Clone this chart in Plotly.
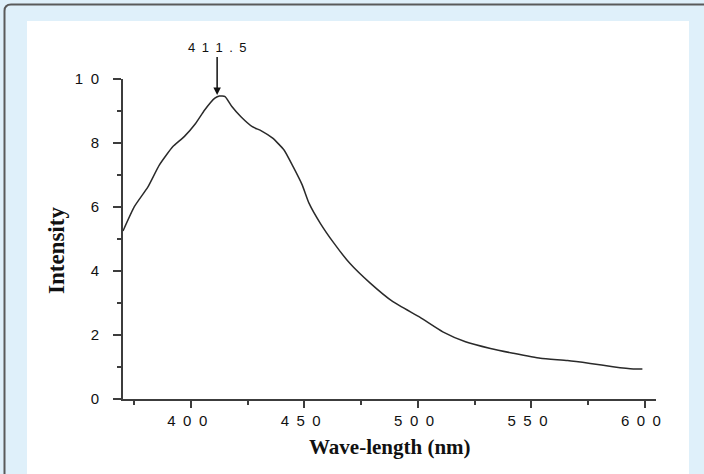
import plotly.graph_objects as go

# Data
wavelength = [370, 375, 381, 386, 392, 397, 402, 406, 410.5, 412.5, 415, 418, 422, 427, 431,
              436, 441, 445, 449, 452, 457, 463, 470, 479, 489, 501, 511, 521, 532, 542,
              554, 566, 576, 586, 595, 599]
intensity = [5.25, 6.01, 6.63, 7.31, 7.89, 8.20, 8.61, 9.03, 9.40, 9.47, 9.45, 9.14, 8.82, 8.51, 8.38,
             8.15, 7.78, 7.26, 6.69, 6.12, 5.49, 4.87, 4.24, 3.62, 3.04, 2.55, 2.10, 1.79, 1.58, 1.43,
             1.27, 1.20, 1.11, 1.01, 0.94, 0.94]

x_tickvals = [400, 450, 500, 550, 600]
x_ticktext = ["4\u20020\u20020\u2002", "4\u20025\u20020\u2002", "5\u20020\u20020\u2002",
              "5\u20025\u20020\u2002", "6\u20020\u20020\u2002"]
y_tickvals = [0, 2, 4, 6, 8, 10]
y_ticktext = ["0", "2", "4", "6", "8", "1\u20020"]

peak_x = 411.5
peak_y = 9.47
peak_label = "4\u20021\u20021\u2002.\u20025"

W, H = 704, 474
L, R, T, B = 123, 48, 79, 75
pw, ph = W - L - R, H - T - B

def px(x):
    return (x - L) / pw

def py(y):
    return (H - B - y) / ph

fig = go.Figure()
fig.add_trace(go.Scatter(x=wavelength, y=intensity, mode="lines",
                         line=dict(color="#2a2a2a", width=1.5, shape="spline", smoothing=0.5),
                         showlegend=False, hoverinfo="skip"))

tickfont = dict(family="Arial, Liberation Sans, sans-serif", size=15, color="#111")

fig.update_xaxes(range=[370, 605], showgrid=False, zeroline=False,
                 showline=True, linecolor="#3c3c3c", linewidth=2,
                 tickmode="array", tickvals=x_tickvals, ticktext=x_ticktext,
                 ticks="outside", ticklen=7, tickwidth=1.5, tickcolor="#3c3c3c",
                 tickfont=tickfont,
                 minor=dict(tickmode="linear", tick0=375, dtick=50, ticks="outside",
                            ticklen=4, tickwidth=1.5, tickcolor="#3c3c3c", showgrid=False))
fig.update_yaxes(range=[0, 10], showgrid=False, zeroline=False,
                 showline=True, linecolor="#3c3c3c", linewidth=2,
                 tickmode="array", tickvals=y_tickvals, ticktext=y_ticktext,
                 ticks="outside", ticklen=8, tickwidth=1.5, tickcolor="#3c3c3c",
                 tickfont=tickfont, ticklabelstandoff=11,
                 minor=dict(tickmode="linear", tick0=1, dtick=2, ticks="outside",
                            ticklen=4, tickwidth=1.5, tickcolor="#3c3c3c", showgrid=False))

shapes = [
    dict(type="rect", xref="paper", yref="paper", layer="below",
         x0=px(27), x1=px(689), y0=py(490), y1=py(21),
         fillcolor="white", line=dict(width=0)),
    dict(type="path", xref="paper", yref="paper", layer="above",
         path=(f"M {px(4.5)},{py(490)} L {px(4.5)},{py(11)} "
               f"Q {px(4.5)},{py(4.5)} {px(11)},{py(4.5)} L {px(720)},{py(4.5)}"),
         line=dict(color="#5a5a5a", width=2)),
]

annotations = [
    dict(x=peak_x, y=peak_y, xref="x", yref="y", text=peak_label, showarrow=True,
         ax=0, ay=-48, arrowhead=2, arrowsize=1, arrowwidth=1.5, arrowcolor="#111",
         standoff=1, font=dict(family="Arial, Liberation Sans, sans-serif", size=13, color="#111")),
    dict(x=px(390), y=py(447), xref="paper", yref="paper", text="<b>Wave-length (nm)</b>",
         showarrow=False, font=dict(family="Liberation Serif, Times New Roman, serif", size=21, color="#111"),
         xanchor="center", yanchor="middle"),
    dict(x=px(56), y=py(251), xref="paper", yref="paper", text="<b>Intensity</b>",
         showarrow=False, textangle=-90,
         font=dict(family="Liberation Serif, Times New Roman, serif", size=23, color="#111"),
         xanchor="center", yanchor="middle"),
]

fig.update_layout(width=W, height=H, margin=dict(l=L, r=R, t=T, b=B),
                  paper_bgcolor="#dff0fa", plot_bgcolor="white",
                  shapes=shapes, annotations=annotations, showlegend=False)

fig.write_html("out.html")
